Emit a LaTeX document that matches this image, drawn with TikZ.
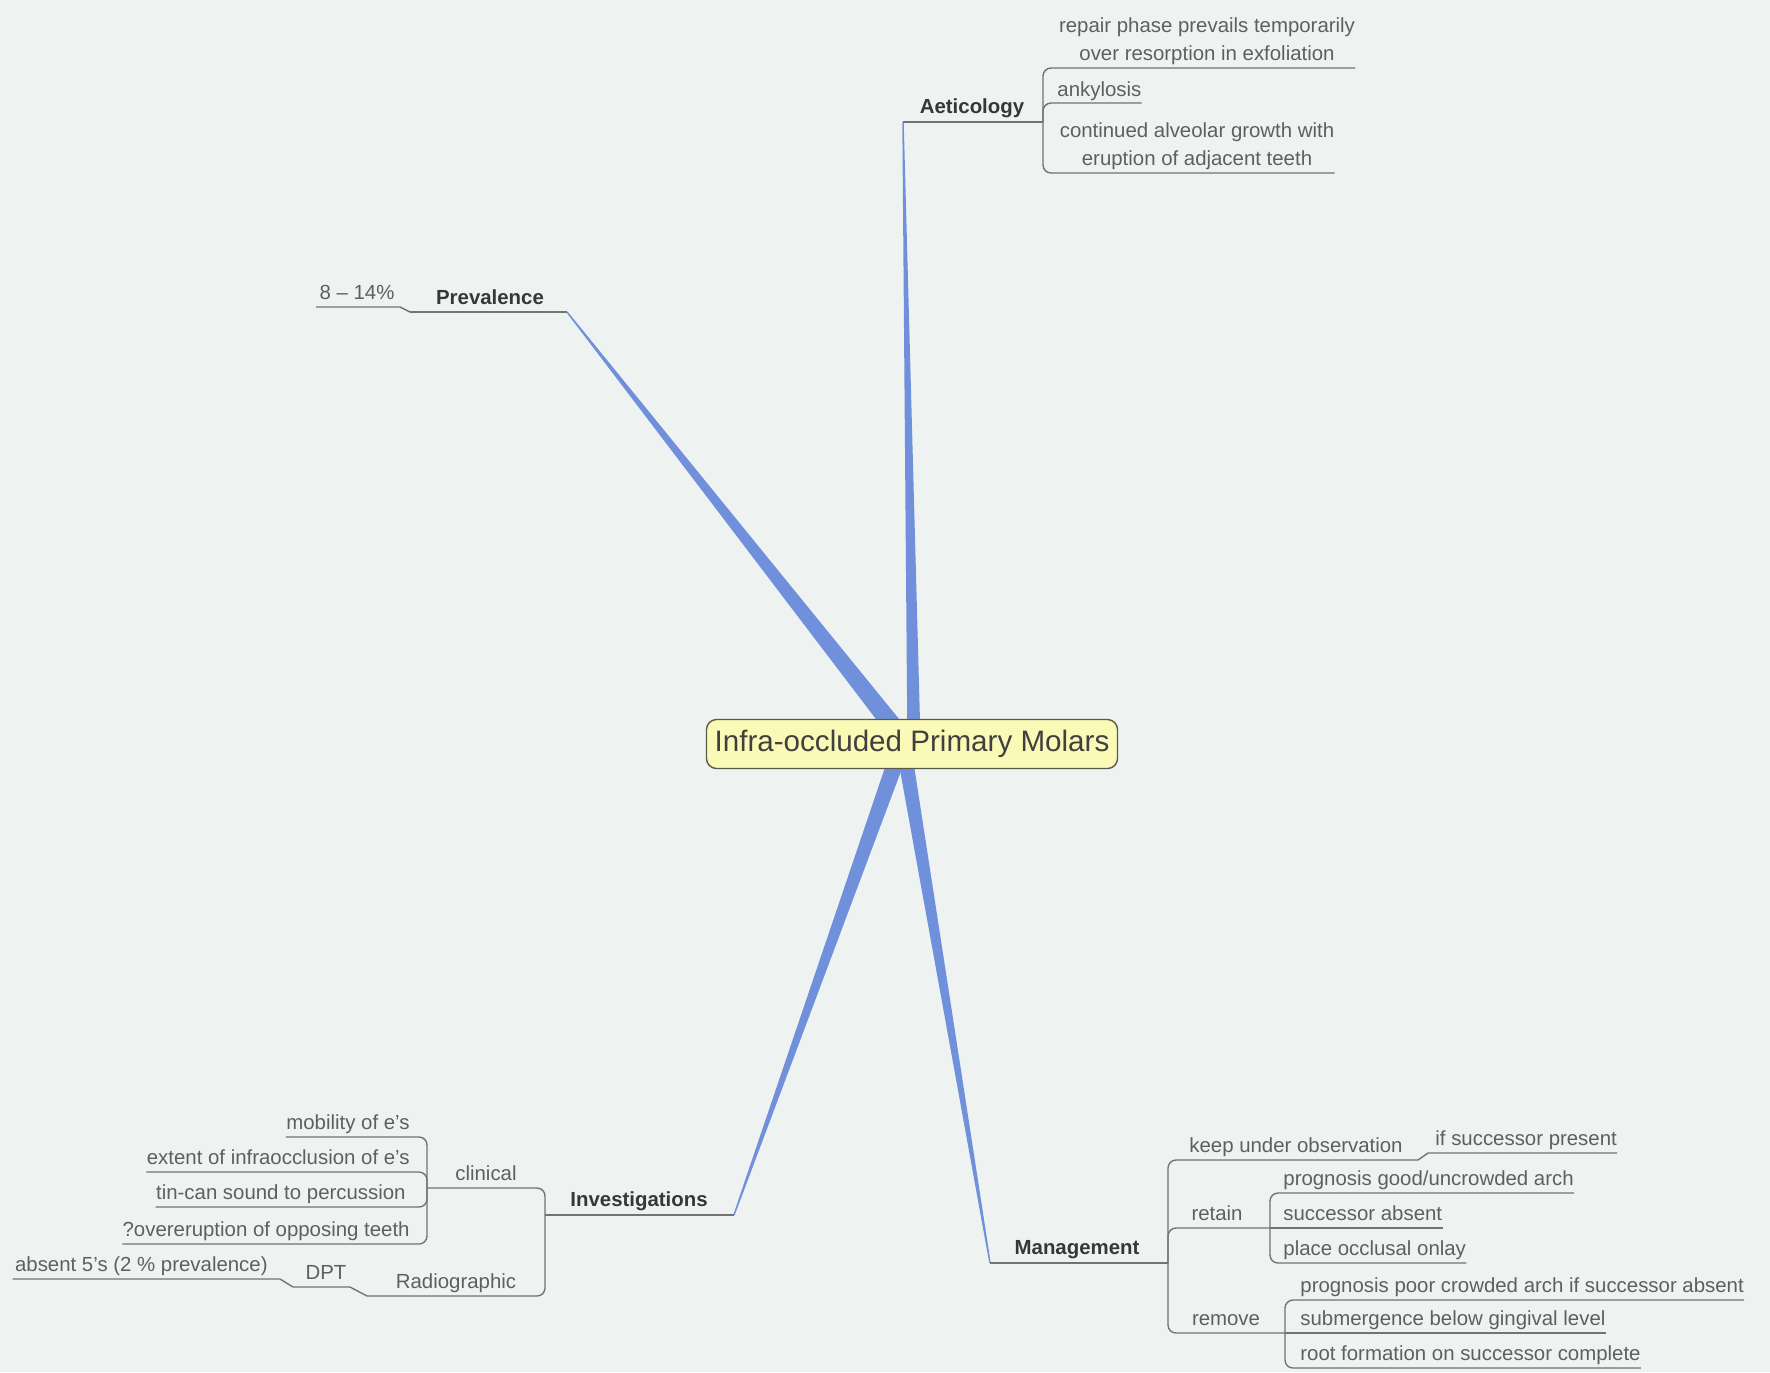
\documentclass[tikz,border=0pt]{standalone}
\usepackage{fontspec}
\setmainfont{Liberation Sans}
\usetikzlibrary{calc}

\definecolor{paper}{RGB}{238,243,242}
\definecolor{fanblue}{RGB}{112,144,220}
\definecolor{linegray}{RGB}{115,115,115}
\definecolor{leafgray}{RGB}{95,95,95}
\definecolor{topicgray}{RGB}{55,55,55}
\definecolor{corefill}{RGB}{250,250,182}
\definecolor{coreline}{RGB}{90,90,70}

% tapered branch: origin, tip, half width at the origin
\newcommand\mmfan[3]{%
  \fill[fan] ($(#1)!#3!90:(#2)$) -- ($(#2)!0.35pt!-90:(#1)$)
     -- ($(#2)!0.35pt!90:(#1)$) -- ($(#1)!#3!-90:(#2)$) -- cycle;}

\begin{document}
\begin{tikzpicture}[x=0.5pt,y=-0.5pt,
  core/.style={draw=coreline, fill=corefill, line width=0.7pt, rounded corners=5pt,
    minimum width=205.5pt, minimum height=24.5pt, inner sep=0pt,
    font=\fontsize{14.8}{17}\selectfont, text=black!75},
  topic/.style={inner sep=0pt, anchor=base, font=\fontsize{10.2}{14}\selectfont\bfseries, text=topicgray},
  leaf/.style={inner sep=0pt, anchor=base, font=\fontsize{10.2}{14}\selectfont, text=leafgray},
  conn/.style={draw=linegray, line width=0.7pt, rounded corners=4pt},
  fan/.style={fill=fanblue},
]
\fill[paper] (0,0) rectangle (1770,1372);
\path[use as bounding box] (0,0) rectangle (1770,1372);

% main branch ends
\coordinate (aetO) at (914,744); \coordinate (aetT) at (903,122);
\coordinate (prvO) at (907,744); \coordinate (prvT) at (567,312);
\coordinate (invO) at (902,744); \coordinate (invT) at (734,1215);
\coordinate (manO) at (903,744); \coordinate (manT) at (990,1263);

\mmfan{aetO}{aetT}{3.3pt}
\mmfan{prvO}{prvT}{4.8pt}
\mmfan{invO}{invT}{4.3pt}
\mmfan{manO}{manT}{3.8pt}

\node[core] (core) at (912,744) {Infra-occluded Primary Molars};

% ---- Aeticology
\coordinate (aetJ) at (1043,122);
\node[topic] (aet) at (972,113) {Aeticology};
\draw[conn] (aetT) -- (aetJ);
\node[leaf] (rep) at (1207,60) {\begin{tabular}[b]{@{}c@{}}repair phase prevails temporarily\\over resorption in exfoliation\end{tabular}};
\draw[conn] (aetJ) |- ([yshift=-4pt]rep.base east);
\node[leaf,anchor=base west] (ank) at (1057,96) {ankylosis};
\draw[conn] (aetJ) |- ([yshift=-3.5pt]ank.base east);
\node[leaf] (cont) at (1197,165) {\begin{tabular}[b]{@{}c@{}}continued alveolar growth with\\eruption of adjacent teeth\end{tabular}};
\draw[conn] (aetJ) |- ([yshift=-4pt]cont.base east);

% ---- Prevalence
\coordinate (prvJ) at (410,312);
\coordinate (pctJ) at (400,307);
\node[topic] (prv) at (490,304) {Prevalence};
\draw[conn] (prvT) -- (prvJ);
\node[leaf] (pct) at (357,299) {8 -- 14\%};
\draw[conn,sharp corners] (prvJ) -- (pctJ) -- ([xshift=-1.5pt,yshift=-4pt]pct.base west);

% ---- Investigations
\coordinate (invJ) at (545,1215);
\node[topic] (inv) at (639,1206) {Investigations};
\draw[conn] (invT) -- (invJ);

\coordinate (clinJ) at (427,1188);
\node[leaf] (clin) at (486,1180) {clinical};
\draw[conn] (invJ) |- (clinJ);
\node[leaf,anchor=base east] (mob) at (410,1129) {mobility of e's};
\draw[conn] (clinJ) |- ([yshift=-4pt]mob.base west);
\node[leaf,anchor=base east] (ext) at (410,1164) {extent of infraocclusion of e's};
\draw[conn] (clinJ) |- ([yshift=-4pt]ext.base west);
\node[leaf,anchor=base east] (tin) at (406,1199) {tin-can sound to percussion};
\draw[conn] (clinJ) |- ([yshift=-4pt]tin.base west);
\node[leaf,anchor=base east] (ovr) at (410,1236) {?overeruption of opposing teeth};
\draw[conn] (clinJ) |- ([yshift=-4pt]ovr.base west);

\coordinate (radE) at (367,1296);
\node[leaf] (rad) at (456,1288) {Radiographic};
\draw[conn] (invJ) |- (radE);
\coordinate (dptE) at (350,1287);
\coordinate (dptW) at (293,1287);
\node[leaf] (dpt) at (326,1279) {DPT};
\draw[conn,sharp corners] (radE) -- (dptE) -- (dptW);
\coordinate (absE) at (280,1279);
\node[leaf,anchor=base east] (abs) at (268,1271) {absent 5's (2 \% prevalence)};
\draw[conn,sharp corners] (dptW) -- (absE) -- ([xshift=-1pt,yshift=-4pt]abs.base west);

% ---- Management
\coordinate (manJ) at (1168,1263);
\node[topic] (man) at (1077,1254) {Management};
\draw[conn] (manT) -- (manJ);

\coordinate (keepE) at (1418,1160);
\coordinate (ifW) at (1428,1153);
\node[leaf] (keep) at (1296,1152) {keep under observation};
\draw[conn] (manJ) |- (keepE);
\node[leaf,anchor=base west] (ifs) at (1435,1145) {if successor present};
\draw[conn,sharp corners] (keepE) -- (ifW) -- ([yshift=-4pt]ifs.base east);

\coordinate (retJ) at (1270,1228);
\node[leaf] (ret) at (1217,1220) {retain};
\draw[conn] (manJ) |- (retJ);
\node[leaf,anchor=base west] (pgood) at (1283,1185) {prognosis good/uncrowded arch};
\draw[conn] (retJ) |- ([yshift=-4pt]pgood.base east);
\node[leaf,anchor=base west] (sabs) at (1283,1220) {successor absent};
\draw[conn] (retJ) -- ([yshift=-4pt]sabs.base east);
\node[leaf,anchor=base west] (onlay) at (1283,1255) {place occlusal onlay};
\draw[conn] (retJ) |- ([yshift=-4pt]onlay.base east);

\coordinate (remJ) at (1285,1333);
\node[leaf] (rem) at (1226,1325) {remove};
\draw[conn] (manJ) |- (remJ);
\node[leaf,anchor=base west] (ppoor) at (1300,1292) {prognosis poor crowded arch if successor absent};
\draw[conn] (remJ) |- ([yshift=-4pt]ppoor.base east);
\node[leaf,anchor=base west] (subm) at (1300,1325) {submergence below gingival level};
\draw[conn] (remJ) -- ([yshift=-4pt]subm.base east);
\node[leaf,anchor=base west] (root) at (1300,1360) {root formation on successor complete};
\draw[conn] (remJ) |- ([yshift=-4pt]root.base east);
\end{tikzpicture}
\end{document}
